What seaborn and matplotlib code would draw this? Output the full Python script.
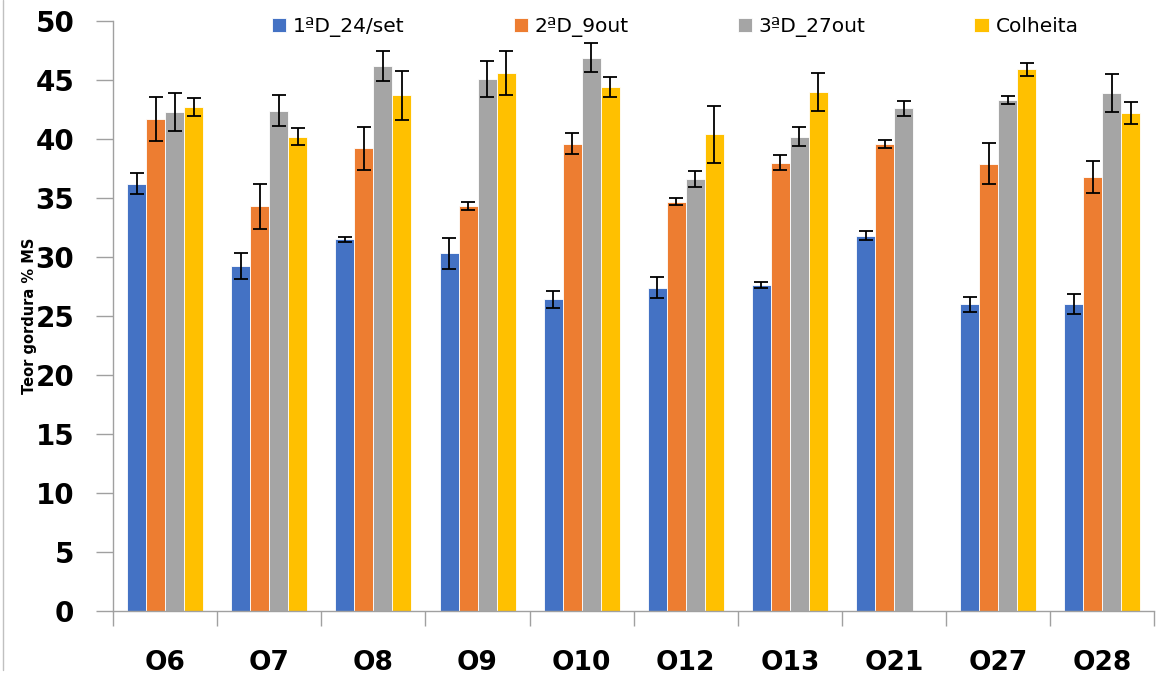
import numpy as np
import pandas as pd
import matplotlib
matplotlib.use('Agg')
import matplotlib.pyplot as plt
from matplotlib.container import BarContainer
import seaborn as sns

# dados
clones = ['O6', 'O7', 'O8', 'O9', 'O10', 'O12', 'O13', 'O21', 'O27', 'O28']
datas = ['1ªD_24/set', '2ªD_9out', '3ªD_27out', 'Colheita']

d1_24set = [36.2, 29.2, 31.5, 30.3, 26.4, 27.4, 27.6, 31.8, 26.0, 26.0]
d2_9out = [41.7, 34.3, 39.2, 34.3, 39.6, 34.7, 38.0, 39.6, 37.9, 36.8]
d3_27out = [42.3, 42.4, 46.2, 45.1, 46.9, 36.6, 40.2, 42.6, 43.3, 43.9]
colheita = [42.7, 40.2, 43.7, 45.6, 44.4, 40.4, 44.0, np.nan, 45.9, 42.2]

err_d1 = [0.9, 1.1, 0.2, 1.3, 0.75, 0.9, 0.25, 0.4, 0.65, 0.85]
err_d2 = [1.9, 1.9, 1.8, 0.35, 0.9, 0.3, 0.65, 0.35, 1.75, 1.35]
err_d3 = [1.6, 1.3, 1.25, 1.55, 1.2, 0.7, 0.8, 0.65, 0.35, 1.6]
err_col = [0.75, 0.7, 2.1, 1.85, 0.85, 2.4, 1.6, np.nan, 0.55, 0.95]

cores = ['#4472C4', '#ED7D31', '#A5A5A5', '#FFC000']

valores = [d1_24set, d2_9out, d3_27out, colheita]
erros = [err_d1, err_d2, err_d3, err_col]

rows = []
for data_nome, vals in zip(datas, valores):
    for c, v in zip(clones, vals):
        rows.append((c, data_nome, v))
df = pd.DataFrame(rows, columns=['Clone', 'Data', 'Gordura'])

sns.set_style('white')
plt.rcParams['font.family'] = ['DejaVu Sans']
plt.rcParams['text.color'] = 'black'

fig = plt.figure(figsize=(11.66, 6.77), dpi=100)
ax = fig.add_axes([0.097, 0.0975, 0.893, 0.8715])

sns.barplot(data=df, x='Clone', y='Gordura', hue='Data', order=clones,
            hue_order=datas, palette=cores, errorbar=None, width=0.73,
            gap=0, edgecolor='white', linewidth=0.6, saturation=1, ax=ax)

# barras de erro
bar_conts = [c for c in ax.containers if isinstance(c, BarContainer)]
for i, cont in enumerate(bar_conts):
    for bar in cont:
        if bar is None:
            continue
        h = bar.get_height()
        if np.isnan(h) or h == 0:
            continue
        xc = bar.get_x() + bar.get_width() / 2
        k = int(round(xc))
        e = erros[i][k]
        if np.isnan(e):
            continue
        ax.errorbar(xc, h, yerr=e, fmt='none', ecolor='black',
                    elinewidth=1.3, capsize=5, capthick=1.3)

ax.set_ylim(0, 50)
ax.set_xlim(-0.5, len(clones) - 0.5)
ax.set_yticks(range(0, 51, 5))
ax.set_yticklabels([str(t) for t in range(0, 51, 5)], fontsize=20,
                   fontweight='bold')
ax.set_xticks(range(len(clones)))
ax.set_xticklabels(clones, fontsize=19, fontweight='bold')
ax.set_xticks(np.arange(-0.5, len(clones), 1), minor=True)
ax.tick_params(axis='x', which='major', length=0, pad=28,
               labelcolor='black')
ax.tick_params(axis='x', which='minor', length=11, color='#A0A0A0',
               width=1, direction='out', bottom=True)
ax.tick_params(axis='y', length=12, color='#A0A0A0', width=1,
               direction='out', pad=16, left=True, labelcolor='black')

ax.set_xlabel('')
ax.set_ylabel('Teor gordura % MS', fontsize=10.5, fontweight='bold',
              color='black')
ax.yaxis.set_label_coords(-0.073, 0.5)

for s in ['top', 'right']:
    ax.spines[s].set_visible(False)
for s in ['left', 'bottom']:
    ax.spines[s].set_color('#A0A0A0')
    ax.spines[s].set_linewidth(1)

leg = ax.legend(loc='center', bbox_to_anchor=(0.54, 0.99), ncol=4,
                frameon=False, fontsize=14.5, handlelength=0.7,
                handleheight=0.7, handletextpad=0.35, columnspacing=5.4,
                borderpad=0, borderaxespad=0)

# borda do gráfico à esquerda
fig.add_artist(plt.Line2D([0.003, 0.003], [0.01, 1.0], color='#C0C0C0',
                          linewidth=1, transform=fig.transFigure))

plt.savefig('out.png', dpi=100)
